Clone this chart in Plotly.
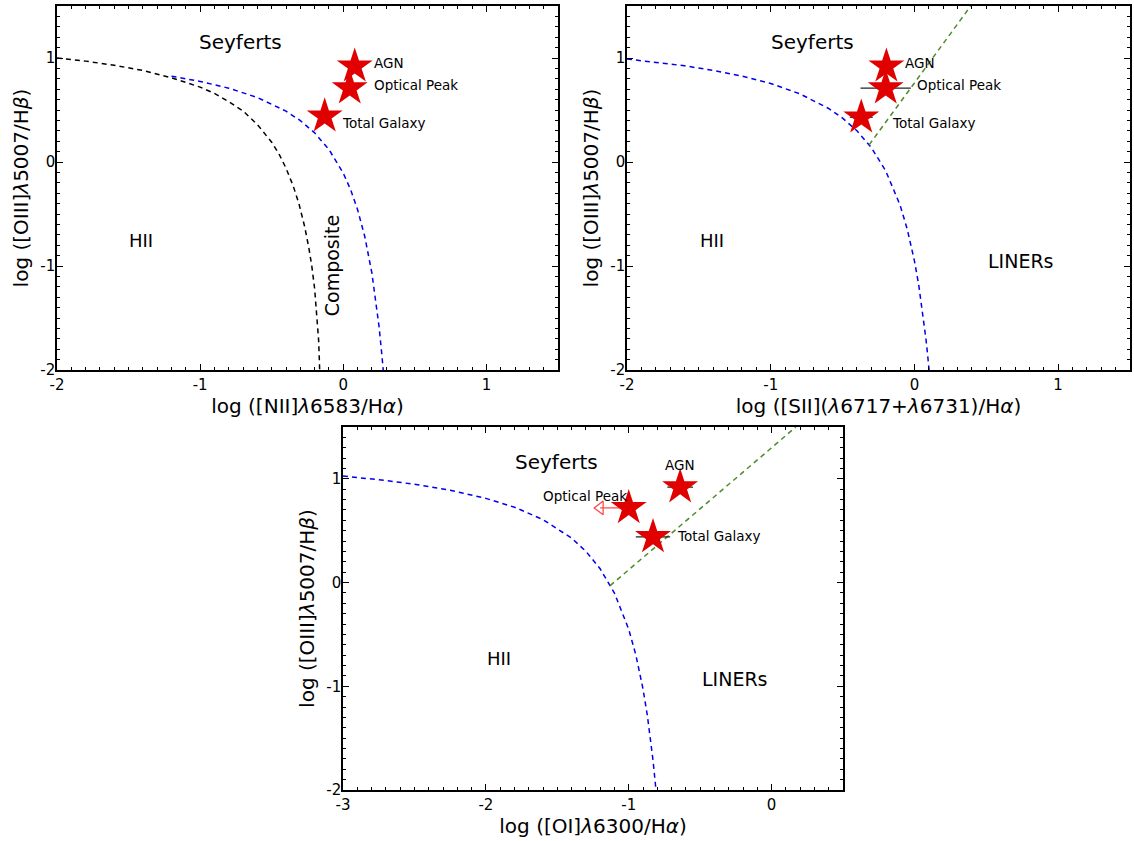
import plotly.graph_objects as go

# ---------------- data ----------------
# Panel 1: [NII] diagram
kauff_x = [-2.0, -1.8, -1.6, -1.4, -1.2, -1.0, -0.9, -0.8, -0.7, -0.6, -0.5, -0.45, -0.4, -0.35, -0.31, -0.27, -0.24, -0.22, -0.2, -0.185, -0.172, -0.165]
kauff_y = [1.00, 0.97, 0.93, 0.88, 0.81, 0.72, 0.66, 0.58, 0.49, 0.36, 0.19, 0.08, -0.06, -0.23, -0.40, -0.62, -0.83, -1.00, -1.22, -1.45, -1.72, -2.0]
kew_n2_x = [-1.2, -1.0, -0.8, -0.6, -0.4, -0.3, -0.2, -0.1, 0.0, 0.05, 0.1, 0.15, 0.2, 0.23, 0.25, 0.27, 0.279]
kew_n2_y = [0.825, 0.775, 0.71, 0.62, 0.489, 0.398, 0.28, 0.12, -0.108, -0.262, -0.459, -0.716, -1.069, -1.352, -1.583, -1.86, -2.0]

# Panel 2: [SII] diagram
kew_s2_x = [-2.0, -1.8, -1.6, -1.4, -1.2, -1.0, -0.8, -0.6, -0.5, -0.4, -0.3, -0.2, -0.1, -0.05, 0.0, 0.03, 0.06, 0.08, 0.09, 0.102]
kew_s2_y = [0.99, 0.96, 0.925, 0.881, 0.826, 0.755, 0.657, 0.517, 0.422, 0.30, 0.139, -0.085, -0.414, -0.646, -0.95, -1.183, -1.469, -1.70, -1.83, -2.0]
sey_s2_x = [-0.315, 0.39]
sey_s2_y = [0.165, 1.497]

# Panel 3: [OI] diagram
kew_o1_x = [-3.0, -2.75, -2.5, -2.25, -2.0, -1.8, -1.6, -1.4, -1.3, -1.2, -1.1, -1.0, -0.95, -0.9, -0.87, -0.85, -0.83, -0.81]
kew_o1_y = [1.027, 0.992, 0.948, 0.89, 0.812, 0.727, 0.607, 0.429, 0.302, 0.133, -0.101, -0.45, -0.698, -1.025, -1.277, -1.478, -1.712, -1.988]
sey_o1_x = [-1.13, 0.17]
sey_o1_y = [-0.03, 1.50]

# Measured points
labels = ["AGN", "Optical Peak", "Total Galaxy"]
n2_x = [0.08, 0.045, -0.13]
n2_y = [0.92, 0.71, 0.44]
n2_xerr = [0.0, 0.0, 0.0]
s2_x = [-0.195, -0.20, -0.37]
s2_y = [0.92, 0.71, 0.43]
s2_xerr = [0.0, 0.175, 0.08]
o1_x = [-0.64, -1.0, -0.83]
o1_y = [0.92, 0.72, 0.44]
o1_xerr = [0.09, 0.0, 0.12]
o1_limit_x = [-1.0, -1.2]   # upper limit arrow for Optical Peak
o1_limit_y = [0.72, 0.72]

# tick labels
tick_vals_a = [-2, -1, 0, 1]
tick_text_a = ["-2", "-1", "0", "1"]
tick_vals_b = [-3, -2, -1, 0]
tick_text_b = ["-3", "-2", "-1", "0"]

# ---------------- figure ----------------
W, H = 1134, 841
FONT = "DejaVu Sans"
RED = "#e00000"
BLUE = "#0000ee"
GREEN = "#4d8a2a"

fig = go.Figure()

def dash_line(x, y, color, ax):
    fig.add_trace(go.Scatter(x=x, y=y, mode="lines", xaxis=ax[0], yaxis=ax[1],
                             line=dict(color=color, width=1.5, dash="5px,4px"),
                             showlegend=False, hoverinfo="skip"))

def stars(x, y, xerr, ax):
    fig.add_trace(go.Scatter(x=x, y=y, mode="markers", xaxis=ax[0], yaxis=ax[1],
                             marker=dict(symbol="star", size=27, color=RED, line=dict(width=0)),
                             error_x=dict(type="data", array=xerr, color="#222222", thickness=1.2, width=0),
                             showlegend=False))

A1, A2, A3 = ("x", "y"), ("x2", "y2"), ("x3", "y3")
dash_line(kauff_x, kauff_y, "black", A1)
dash_line(kew_n2_x, kew_n2_y, BLUE, A1)
stars(n2_x, n2_y, n2_xerr, A1)

dash_line(kew_s2_x, kew_s2_y, BLUE, A2)
dash_line(sey_s2_x, sey_s2_y, GREEN, A2)
stars(s2_x, s2_y, s2_xerr, A2)

dash_line(kew_o1_x, kew_o1_y, BLUE, A3)
dash_line(sey_o1_x, sey_o1_y, GREEN, A3)
fig.add_trace(go.Scatter(x=o1_limit_x, y=o1_limit_y, mode="lines", xaxis="x3", yaxis="y3",
                         line=dict(color="#ff4040", width=1.2), showlegend=False))
fig.add_trace(go.Scatter(x=[o1_limit_x[1]], y=[o1_limit_y[1]], mode="markers", xaxis="x3", yaxis="y3",
                         marker=dict(symbol="triangle-left-open", size=12, color="#ff4040", line=dict(width=1.2)),
                         showlegend=False))
stars(o1_x, o1_y, o1_xerr, A3)

def xdom(a, b):
    return [a / W, b / W]

def ydom(top, bottom):
    return [1 - bottom / H, 1 - top / H]

common = dict(showline=True, linecolor="black", linewidth=1.5, mirror="allticks",
              ticks="inside", ticklen=6, tickwidth=1.2, tickcolor="black",
              showgrid=False, zeroline=False, automargin=False,
              tickfont=dict(family=FONT, size=15, color="black"),
              minor=dict(ticks="inside", ticklen=3, tickwidth=1, tickcolor="black", dtick=0.1, showgrid=False))

ytitle = "log ([OIII]<i>λ</i>5007/H<i>β</i>)"
tfont = dict(family=FONT, size=20, color="black")

fig.update_layout(
    width=W, height=H, margin=dict(l=0, r=0, t=0, b=0),
    paper_bgcolor="white", plot_bgcolor="white", showlegend=False,
    xaxis=dict(domain=xdom(57, 558), range=[-2, 1.5], tickvals=tick_vals_a, ticktext=tick_text_a, anchor="y",
               title=dict(text="log ([NII]<i>λ</i>6583/H<i>α</i>)", font=tfont, standoff=3), **common),
    yaxis=dict(domain=ydom(6, 370), range=[-2, 1.5], tickvals=tick_vals_a, ticktext=tick_text_a, anchor="x",
               ticklabelstandoff=-3,
               title=dict(text=ytitle, font=tfont, standoff=6), **common),
    xaxis2=dict(domain=xdom(627, 1130), range=[-2, 1.5], tickvals=tick_vals_a, ticktext=tick_text_a, anchor="y2",
                title=dict(text="log ([SII](<i>λ</i>6717+<i>λ</i>6731)/H<i>α</i>)", font=tfont, standoff=3), **common),
    yaxis2=dict(domain=ydom(6, 370), range=[-2, 1.5], tickvals=tick_vals_a, ticktext=tick_text_a, anchor="x2",
                ticklabelstandoff=-3,
                title=dict(text=ytitle, font=tfont, standoff=6), **common),
    xaxis3=dict(domain=xdom(343, 843), range=[-3, 0.5], tickvals=tick_vals_b, ticktext=tick_text_b, anchor="y3",
                title=dict(text="log ([OI]<i>λ</i>6300/H<i>α</i>)", font=tfont, standoff=3), **common),
    yaxis3=dict(domain=ydom(427, 790), range=[-2, 1.5], tickvals=tick_vals_a, ticktext=tick_text_a, anchor="x3",
                ticklabelstandoff=-3,
                title=dict(text=ytitle, font=tfont, standoff=6), **common),
)

def note(text, x, y, ax, size=13.5, xanchor="left", angle=0):
    fig.add_annotation(text=text, x=x, y=y, xref=ax[0], yref=ax[1], showarrow=False,
                       xanchor=xanchor, yanchor="middle", textangle=angle,
                       font=dict(family=FONT, size=size, color="black"))

# Panel 1 annotations
note("Seyferts", -0.72, 1.154, A1, 20, "center")
note("HII", -1.41, -0.75, A1, 18, "center")
note("Composite", -0.077, -1.0, A1, 19, "center", -90)
note(labels[0], 0.20, 0.952, A1)
note(labels[1], 0.20, 0.74, A1)
note(labels[2], -0.02, 0.375, A1)

# Panel 2 annotations
note("Seyferts", -0.71, 1.154, A2, 20, "center")
note("HII", -1.41, -0.75, A2, 18, "center")
note("LINERs", 0.74, -0.952, A2, 19, "center")
note(labels[0], -0.08, 0.952, A2)
note(labels[1], 0.007, 0.74, A2)
note(labels[2], -0.167, 0.375, A2)

# Panel 3 annotations
note("Seyferts", -1.507, 1.163, A3, 20, "center")
note("HII", -1.906, -0.731, A3, 18, "center")
note("LINERs", -0.259, -0.933, A3, 19, "center")
note(labels[0], -0.638, 1.135, A3, 13.5, "center")
note(labels[1], -1.303, 0.837, A3, 13.5, "center")
note(labels[2], -0.673, 0.452, A3)

fig.write_html("out.html", config={"displayModeBar": False},
               post_script="document.body.style.margin='0px';")
